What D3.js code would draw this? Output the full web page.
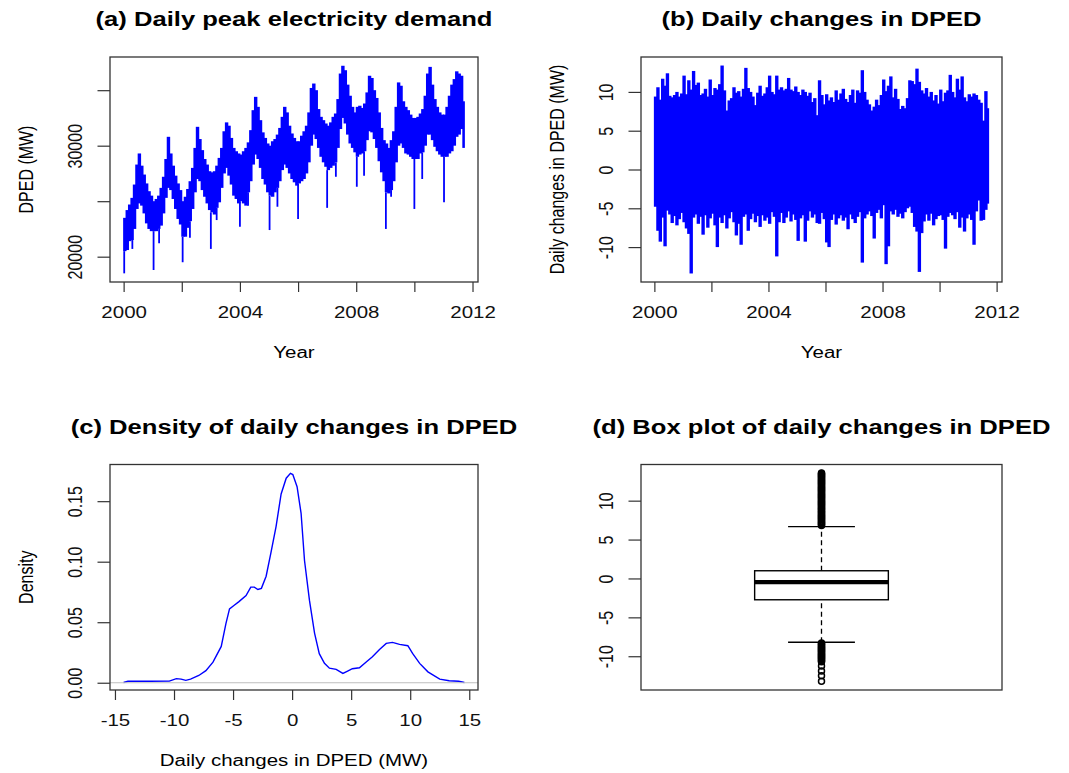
<!DOCTYPE html>
<html>
<head>
<meta charset="utf-8">
<script src="https://cdn.jsdelivr.net/npm/d3@7"></script>
<style>
  body { margin: 0; background: #fff; }
  svg { display: block; font-family: "Liberation Sans", Arial, sans-serif; }
</style>
</head>
<body>
<div id="chart"></div>
<script>
// ---- data ----
// (a) daily peak demand, monthly envelope of the daily series (MW), Jan 2000 .. Sep 2011
var dpedLow = [
  20500, 20600, 21400, 21500, 22500, 24300, 24800, 24600, 23900, 23000, 22500, 22300,
  22300, 22300, 22500, 22800, 23900, 25300, 26200, 26000, 25200, 24300, 23400, 22900,
  21800, 21800, 22600, 23200, 24300, 25800, 27000, 26800, 26000, 25400, 24800, 24200,
  24000, 23800, 24400, 24900, 26200, 27500, 28000, 27300, 26500, 25500, 25200, 24800,
  25000, 24800, 24600, 25800, 26800, 28300, 29200, 28800, 28000, 27000, 26500, 25800,
  25500, 25400, 25800, 26200, 26800, 27800, 28300, 28000, 27500, 27000, 26700, 26400,
  26600, 26800, 27000, 27500, 28500, 30000, 31000, 30600, 29800, 29000, 28500, 28100,
  27800, 28000, 28200, 28500, 29800, 31500, 32500, 32000, 31000, 30200, 29800, 29400,
  29000, 29200, 29300, 29500, 30500, 31300, 31200, 30600, 29800, 28600, 27600, 26800,
  25800, 25700, 26000, 26800, 28500, 30000, 30200, 29800, 29300, 29200, 29000, 28800,
  28800, 28800, 29300, 29400, 30000, 31000, 31000, 30500, 29900, 29500, 29200, 29000,
  29000, 29000, 29300, 29500, 30000, 30800, 31000, 31500, 29800
];
var dpedHigh = [
  23500, 24200, 24700, 25300, 26500, 28300, 29300, 28200, 27400, 26600, 25900, 25500,
  25000, 25200, 25500, 26200, 27200, 28800, 30800, 29300, 28200, 27300, 26600, 26000,
  25000, 25400, 26100, 26800, 28000, 29800, 31700, 30600, 29600, 28800, 28300, 27700,
  27600, 27700, 28200, 28900, 29800, 31300, 32100, 31800, 30700, 29800, 29500, 29300,
  29200, 29500, 29800, 30300, 31400, 33200, 34400, 33500, 32300, 31200, 30700, 30200,
  30000, 30400, 30600, 31000, 31600, 32600, 33500, 33000, 31800, 31100, 30700, 30400,
  30400, 30900, 31300, 31800, 33000, 35200, 35600, 35000, 33300, 32600, 32300, 32000,
  31800, 32100, 32600, 32900, 34200, 36500, 37200, 36800, 35500, 34500, 33500, 33000,
  33500, 33600, 33400, 33800, 34800, 36300, 36100, 35000, 34300, 33000, 31600, 30500,
  30200, 29800, 30500, 31300, 33500, 35700, 35400, 34000, 33500, 33200, 32800, 32500,
  32500, 32600, 32900, 33300, 34500, 36500, 37100, 35500, 34200, 33500, 33000, 32800,
  32800, 33500, 34500, 35500, 36000, 36700, 36500, 36300, 34000
];
// single-day dips below the band (holidays)
var dipYear  = [2000.02, 2000.30, 2001.03, 2001.22, 2002.03, 2002.28, 2003.00, 2003.20, 2004.00, 2004.28,
                2005.02, 2005.29, 2006.00, 2007.00, 2007.30, 2008.02, 2008.27, 2009.02, 2009.20, 2010.00, 2010.27, 2011.02];
var dipValue = [18500, 20700, 18800, 21200, 19500, 21700, 20700, 23300, 22700, 24600,
                22400, 24500, 23400, 24400, 27200, 26300, 27300, 22500, 25400, 24300, 27000, 24900];

// (b) daily changes, monthly envelope
var chgHigh = [
  9.4, 10.6, 9.0, 11.7, 10.8, 12.4, 9.5, 9.3, 9.6, 10.0, 9.4, 9.8,
  12.1, 9.7, 11.5, 10.3, 12.7, 10.9, 11.2, 9.6, 9.8, 10.4, 9.4, 11.6,
  9.6, 10.5, 10.3, 11.0, 13.4, 10.2, 7.6, 8.9, 9.2, 10.6, 9.9, 10.1,
  9.4, 10.4, 13.1, 10.5, 10.0, 9.4, 8.3, 9.9, 10.8, 9.5, 9.8, 10.6,
  12.1, 10.0, 9.7, 12.1, 10.3, 10.6, 10.2, 10.4, 11.8, 10.3, 10.1, 10.7,
  10.0, 9.6, 10.3, 10.0, 9.5, 9.9, 8.7, 9.2, 7.0, 11.5, 9.6, 8.4,
  9.7, 8.9, 9.3, 8.7, 10.2, 9.0, 9.8, 10.4, 9.1, 8.7, 9.6, 10.3,
  8.6, 10.2, 9.9, 12.8, 10.0, 9.0, 8.4, 7.6, 8.1, 9.0, 8.3, 9.6,
  11.6, 10.1, 10.8, 12.0, 9.3, 10.4, 9.1, 7.8, 8.2, 7.9, 9.2, 11.5,
  11.4, 11.0, 13.0, 11.3, 10.2, 9.8, 10.5, 9.4, 10.0, 8.9, 9.6, 8.5,
  10.3, 8.8, 9.9, 10.2, 12.2, 10.0, 9.3, 11.7, 10.3, 12.0, 9.3, 8.8,
  9.7, 9.4, 9.8, 9.6, 9.0, 8.6, 6.3, 10.1, 7.9
];
var chgLow = [
  -4.8, -7.9, -9.3, -6.2, -9.9, -5.3, -5.8, -6.9, -6.0, -7.2, -6.4, -5.6,
  -6.8, -7.6, -8.3, -13.4, -6.2, -5.8, -7.0, -6.1, -8.4, -5.9, -7.5, -6.3,
  -5.7, -7.2, -10.0, -6.2, -6.9, -5.9, -7.6, -6.3, -5.5, -6.8, -8.5, -7.0,
  -9.7, -6.1, -5.8, -7.9, -6.4, -5.7, -6.8, -6.0, -7.4, -5.9, -6.6, -6.2,
  -7.0, -5.5, -6.1, -11.2, -6.8, -5.6, -6.9, -6.2, -5.4, -6.7, -5.8, -6.5,
  -9.2, -6.3, -5.9, -9.3, -6.6, -5.4, -6.2, -5.8, -6.9, -7.0, -5.6, -6.4,
  -9.4, -10.0, -6.5, -5.8, -7.1, -6.3, -5.9, -6.6, -6.2, -7.7, -5.8, -6.4,
  -6.9, -6.1, -5.5, -12.0, -6.3, -5.8, -5.4, -6.0, -8.9, -5.6, -5.2, -6.3,
  -4.6, -12.2, -9.9, -5.4, -5.8, -5.2, -6.1, -5.7, -6.3, -5.5, -5.0, -4.8,
  -5.6, -7.4, -8.0, -13.2, -8.2, -6.7, -5.8, -6.6, -5.7, -7.2, -6.4, -6.0,
  -5.9, -6.5, -10.2, -6.1, -5.6, -5.9, -6.4, -5.5, -7.5, -6.2, -8.0, -6.3,
  -5.8, -6.5, -9.7, -5.4, -4.0, -6.6, -6.5, -5.2, -4.4
];

// (c) kernel density of the daily changes
var densX = [-14.27, -13.9, -12.0, -10.4, -9.8, -9.4, -9.0, -8.6, -7.9, -7.3, -6.7, -6.0, -5.6, -5.3, -4.9,
             -4.5, -3.9, -3.5, -3.2, -2.9, -2.6, -2.2, -1.8, -1.36, -0.93, -0.5, -0.14, 0.06, 0.42, 0.76,
             1.05, 1.47, 1.9, 2.3, 2.74, 3.16, 3.73, 4.3, 4.7, 5.1, 5.7, 6.3, 6.8, 7.4, 7.97,
             8.5, 9.1, 9.8, 10.2, 10.8, 11.5, 12.5, 13.3, 14.1, 14.59];
var densY = [0.0002, 0.0012, 0.0012, 0.0013, 0.0034, 0.003, 0.002, 0.003, 0.006, 0.010, 0.017, 0.030, 0.049, 0.061, 0.064,
             0.067, 0.072, 0.079, 0.079, 0.077, 0.078, 0.088, 0.107, 0.129, 0.156, 0.169, 0.173, 0.172, 0.162, 0.140,
             0.101, 0.068, 0.041, 0.024, 0.016, 0.012, 0.011, 0.0077, 0.0096, 0.0116, 0.0124, 0.0174, 0.0215, 0.0275, 0.0325,
             0.0333, 0.0317, 0.0306, 0.0242, 0.016, 0.009, 0.003, 0.0017, 0.0012, 0.0002];

// (d) box plot: lower whisker, Q1, median, Q3, upper whisker, then outliers
var boxStats = [-8.2, -2.74, -0.47, 0.99, 6.66];
var outHigh = [6.8, 6.9, 7.0, 7.1, 7.2, 7.3, 7.4, 7.5, 7.6, 7.7, 7.8, 7.9, 8.0, 8.1, 8.2, 8.3, 8.4, 8.5, 8.6, 8.7,
               8.8, 8.9, 9.0, 9.1, 9.2, 9.3, 9.4, 9.5, 9.6, 9.7, 9.8, 9.9, 10.0, 10.1, 10.2, 10.3, 10.4, 10.5,
               10.6, 10.7, 10.8, 10.9, 11.0, 11.1, 11.2, 11.3, 11.4, 11.5, 11.6, 11.7, 11.8, 11.9, 12.0, 12.1,
               12.2, 12.3, 12.4, 12.5, 12.6, 12.7, 12.8, 12.9, 13.0, 13.1, 13.2, 13.3, 13.4, 13.5, 13.57];
var outLow = [-8.3, -8.4, -8.5, -8.6, -8.7, -8.8, -8.9, -9.0, -9.1, -9.2, -9.3, -9.4, -9.5, -9.6, -9.7, -9.8,
              -9.9, -10.0, -10.1, -10.2, -10.3, -10.4, -10.5, -10.6, -10.7, -11.25, -11.9, -12.5, -13.2];

var yearTicks = [2000, 2002, 2004, 2006, 2008, 2010, 2012],
    yearLabels = [2000, 2004, 2008, 2012],
    dpedTicks = [20000, 25000, 30000, 35000],
    dpedLabels = [20000, 30000],
    chgTicks = [-10, -5, 0, 5, 10],
    densXTicks = [-15, -10, -5, 0, 5, 10, 15],
    densYTicks = [0, 0.05, 0.10, 0.15];

var yearStart = 2000, yearEnd = 2011.72;

// ---- layout ----
var W = 1069, H = 773, SX = 1.28;   // text in the picture is stretched sideways
var pa = {x0: 110, x1: 478, y0: 57, y1: 282},
    pb = {x0: 641, x1: 1002, y0: 57, y1: 282},
    pc = {x0: 110, x1: 478, y0: 464.5, y1: 690},
    pd = {x0: 641, x1: 1002, y0: 464.5, y1: 690};

var svg = d3.select('#chart').append('svg')
    .attr('width', W)
    .attr('height', H);

svg.append('rect').attr('width', W).attr('height', H).attr('fill', '#fff');

function add_text(x, y, str, size, weight, rotate) {
  svg.append('text')
    .attr('transform', 'translate(' + x + ',' + y + ') scale(' + SX + ',1)' + (rotate ? ' rotate(-90)' : ''))
    .attr('text-anchor', 'middle')
    .attr('font-size', size)
    .attr('font-weight', weight || 'normal')
    .attr('fill', '#000')
    .text(str);
}

function style_axis(g) {
  g.attr('font-family', null).attr('font-size', null);
  g.select('.domain').remove();
  g.selectAll('.tick line').attr('stroke', '#333').attr('stroke-width', 1.2);
  g.selectAll('.tick text').attr('fill', '#111').attr('font-size', 16);
}

function bottom_axis(scale, p, values, labelled, fmt) {
  var g = svg.append('g')
    .attr('transform', 'translate(0,' + p.y1 + ')')
    .call(d3.axisBottom(scale).tickValues(values).tickSize(10)
      .tickFormat(function(d) { return labelled.indexOf(d) >= 0 ? fmt(d) : ''; }));
  style_axis(g);
  g.selectAll('.tick text')
    .attr('y', 0).attr('dy', 0)
    .attr('transform', 'translate(0,36) scale(' + SX + ',1)');
}

function left_axis(scale, p, values, labelled, fmt) {
  var g = svg.append('g')
    .attr('transform', 'translate(' + p.x0 + ',0)')
    .call(d3.axisLeft(scale).tickValues(values).tickSize(12.5)
      .tickFormat(function(d) { return labelled.indexOf(d) >= 0 ? fmt(d) : ''; }));
  style_axis(g);
  g.selectAll('.tick text')
    .attr('x', 0).attr('y', 0).attr('dy', 0)
    .attr('text-anchor', 'middle')
    .attr('transform', 'translate(-28,0) scale(' + SX + ',1) rotate(-90)');
}

function frame(p) {
  svg.append('rect')
    .attr('x', p.x0).attr('y', p.y0)
    .attr('width', p.x1 - p.x0).attr('height', p.y1 - p.y0)
    .attr('fill', 'none')
    .attr('stroke', '#333')
    .attr('stroke-width', 1.3);
}

function labels(p, title, xlab, ylab) {
  var cx = (p.x0 + p.x1) / 2, cy = (p.y0 + p.y1) / 2;
  add_text(cx, p.y0 - 31, title, 20, 'bold');
  if (xlab) add_text(cx, p.y1 + 76, xlab, 16);
  if (ylab) add_text(p.x0 - 77, cy, ylab, 16, 'normal', true);
}

var plain = function(d) { return String(d); };

function month_span(i) {
  var s = yearStart + i / 12;
  return [s, Math.min(s + 1 / 12, yearEnd)];
}

var timeDomain = [yearStart - 0.04 * (yearEnd - yearStart), yearEnd + 0.04 * (yearEnd - yearStart)];

// ---- (a) ----
var xA = d3.scaleLinear().domain(timeDomain).range([pa.x0, pa.x1]);
var yA = d3.scaleLinear().domain([17720, 37990]).range([pa.y1, pa.y0]);

svg.append('g').selectAll('rect')
  .data(dpedLow)
  .enter().append('rect')
    .attr('x', function(d, i) { return xA(month_span(i)[0]) - 0.5; })
    .attr('width', function(d, i) { var s = month_span(i); return xA(s[1]) - xA(s[0]) + 1; })
    .attr('y', function(d, i) { return yA(dpedHigh[i]); })
    .attr('height', function(d, i) { return yA(d) - yA(dpedHigh[i]); })
    .attr('fill', '#0000ff');

svg.append('g').selectAll('line')
  .data(dipYear)
  .enter().append('line')
    .attr('x1', function(d) { return xA(d); })
    .attr('x2', function(d) { return xA(d); })
    .attr('y1', function(d, i) { return yA(dipValue[i]); })
    .attr('y2', function(d) { return yA(dpedLow[Math.floor((d - yearStart) * 12)]); })
    .attr('stroke', '#0000ff')
    .attr('stroke-width', 1.8);

bottom_axis(xA, pa, yearTicks, yearLabels, plain);
left_axis(yA, pa, dpedTicks, dpedLabels, plain);
frame(pa);
labels(pa, '(a) Daily peak electricity demand', 'Year', 'DPED (MW)');

// ---- (b) ----
var xB = d3.scaleLinear().domain(timeDomain).range([pb.x0, pb.x1]);
var yB = d3.scaleLinear().domain([-14.5, 14.5]).range([pb.y1, pb.y0]);

svg.append('g').selectAll('rect')
  .data(chgLow)
  .enter().append('rect')
    .attr('x', function(d, i) { return xB(month_span(i)[0]) - 0.5; })
    .attr('width', function(d, i) { var s = month_span(i); return xB(s[1]) - xB(s[0]) + 1; })
    .attr('y', function(d, i) { return yB(chgHigh[i]); })
    .attr('height', function(d, i) { return yB(d) - yB(chgHigh[i]); })
    .attr('fill', '#0000ff');

bottom_axis(xB, pb, yearTicks, yearLabels, plain);
left_axis(yB, pb, chgTicks, chgTicks, plain);
frame(pb);
labels(pb, '(b) Daily changes in DPED', 'Year', 'Daily changes in DPED (MW)');

// ---- (c) ----
var xC = d3.scaleLinear().domain([-15.42, 15.74]).range([pc.x0, pc.x1]);
var yC = d3.scaleLinear().domain([-0.006, 0.1803]).range([pc.y1, pc.y0]);

var densLine = d3.line()
  .x(function(d, i) { return xC(densX[i]); })
  .y(function(d) { return yC(d); });

svg.append('path')
  .datum(densY)
  .attr('d', densLine)
  .attr('fill', 'none')
  .attr('stroke', '#0000ff')
  .attr('stroke-width', 1.4);

svg.append('line')
  .attr('x1', pc.x0).attr('x2', pc.x1)
  .attr('y1', yC(0)).attr('y2', yC(0))
  .attr('stroke', '#bebebe')
  .attr('stroke-width', 1.2);

bottom_axis(xC, pc, densXTicks, densXTicks, plain);
left_axis(yC, pc, densYTicks, densYTicks, d3.format('.2f'));
frame(pc);
labels(pc, '(c) Density of daily changes in DPED', 'Daily changes in DPED (MW)', 'Density');

// ---- (d) ----
var xD = d3.scaleLinear().domain([0.46, 1.54]).range([pd.x0, pd.x1]);
var yD = d3.scaleLinear().domain([-14.34, 14.65]).range([pd.y1, pd.y0]);
var g_box = svg.append('g');

// whiskers
[[boxStats[0], boxStats[1]], [boxStats[3], boxStats[4]]].forEach(function(w) {
  g_box.append('line')
    .attr('x1', xD(1)).attr('x2', xD(1))
    .attr('y1', yD(w[0])).attr('y2', yD(w[1]))
    .attr('stroke', '#000').attr('stroke-width', 1.3)
    .attr('stroke-dasharray', '5,3.5');
});
[boxStats[0], boxStats[4]].forEach(function(v) {
  g_box.append('line')
    .attr('x1', xD(0.9)).attr('x2', xD(1.1))
    .attr('y1', yD(v)).attr('y2', yD(v))
    .attr('stroke', '#000').attr('stroke-width', 1.3);
});
g_box.append('rect')
  .attr('x', xD(0.8)).attr('width', xD(1.2) - xD(0.8))
  .attr('y', yD(boxStats[3])).attr('height', yD(boxStats[1]) - yD(boxStats[3]))
  .attr('fill', '#fff').attr('stroke', '#000').attr('stroke-width', 1.4);
g_box.append('line')
  .attr('x1', xD(0.8)).attr('x2', xD(1.2))
  .attr('y1', yD(boxStats[2])).attr('y2', yD(boxStats[2]))
  .attr('stroke', '#000').attr('stroke-width', 4.3);

g_box.selectAll('circle')
  .data(outHigh.concat(outLow))
  .enter().append('circle')
    .attr('cx', xD(1))
    .attr('cy', function(d) { return yD(d); })
    .attr('r', 3)
    .attr('fill', 'none')
    .attr('stroke', '#000')
    .attr('stroke-width', 1.5);

left_axis(yD, pd, chgTicks, chgTicks, plain);
frame(pd);
labels(pd, '(d) Box plot of daily changes in DPED');
</script>
</body>
</html>
